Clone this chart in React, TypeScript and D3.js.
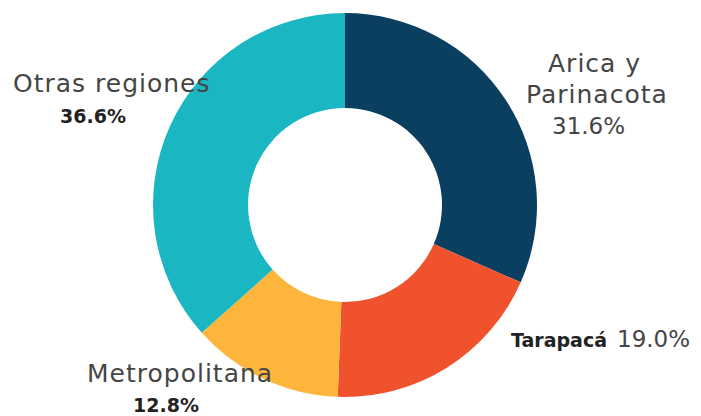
import * as d3 from 'd3';

const regions = ['Arica y Parinacota', 'Tarapacá', 'Metropolitana', 'Otras regiones'];
const shares = [31.6, 19.0, 12.8, 36.6];
const colors = ['#0b3f5f', '#ef522d', '#fdb63b', '#1ab7c3'];

const width = 701;
const height = 416;
const cx = 345;
const cy = 205;
const outerR = 192;
const innerR = 97;

const fmt = (v: number) => `${v.toFixed(1)}%`;

// label layout, one entry per text line
type Line = { text: string; x: number; y: number; size: number; bold?: boolean; spacing?: number };

function labelLines(): Line[] {
    return [
        { text: 'Arica y', x: 548, y: 72, size: 25, spacing: 1 },
        { text: 'Parinacota', x: 526, y: 103, size: 25, spacing: 1 },
        { text: fmt(shares[0]), x: 552, y: 134, size: 23 },
        { text: regions[1], x: 511, y: 347, size: 19, bold: true },
        { text: fmt(shares[1]), x: 617, y: 347, size: 23 },
        { text: regions[2], x: 87, y: 382, size: 25, spacing: 1 },
        { text: fmt(shares[2]), x: 133, y: 412, size: 19, bold: true },
        { text: regions[3], x: 13, y: 92, size: 25, spacing: 1 },
        { text: fmt(shares[3]), x: 60, y: 123, size: 19, bold: true },
    ];
}

export default function App() {
    const pie = d3
        .pie<number>()
        .sort(null)
        .value((d) => d);
    const arcs = pie(shares);
    const arc = d3.arc<d3.PieArcDatum<number>>().innerRadius(innerR).outerRadius(outerR);

    return (
        <svg
            width={width}
            height={height}
            style={{ position: 'absolute', left: 0, top: 0, background: '#fff' }}
            fontFamily="'DejaVu Sans', sans-serif"
        >
            <g transform={`translate(${cx},${cy})`}>
                {arcs.map((a, i) => (
                    <path key={regions[i]} d={arc(a) ?? ''} fill={colors[i]} />
                ))}
            </g>
            {labelLines().map((l, i) => (
                <text
                    key={i}
                    x={l.x}
                    y={l.y}
                    fontSize={l.size}
                    fontWeight={l.bold ? 700 : 400}
                    letterSpacing={l.spacing ?? 0}
                    fill={l.bold ? '#222' : '#454545'}
                >
                    {l.text}
                </text>
            ))}
        </svg>
    );
}
